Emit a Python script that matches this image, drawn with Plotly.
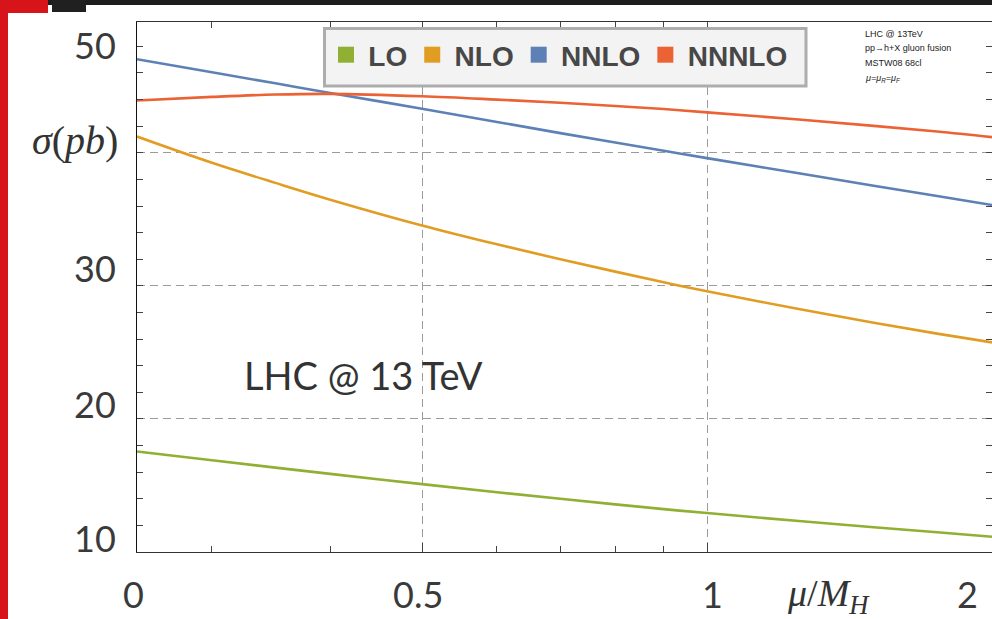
import numpy as np
import plotly.graph_objects as go

# Scale ratio mu / M_H (log axis) and cross sections in pb
mu_ratio = [0.25, 0.3, 0.35, 0.4, 0.5, 0.6, 0.7, 0.8, 0.9, 1.0, 1.25, 1.5, 1.75, 2.0]
sigma_lo = [17.55, 16.89, 16.34, 15.87, 15.10, 14.49, 14.0, 13.58, 13.22, 12.93, 12.33, 11.86, 11.48, 11.15]
sigma_nlo = [41.22, 39.25, 37.74, 36.48, 34.54, 33.12, 32.0, 31.07, 30.27, 29.59, 28.26, 27.23, 26.41, 25.75]
sigma_nnlo = [47.03, 46.05, 45.22, 44.5, 43.31, 42.32, 41.48, 40.77, 40.15, 39.6, 38.46, 37.53, 36.75, 36.08]
sigma_nnnlo = [43.93, 44.2, 44.38, 44.43, 44.25, 44.0, 43.76, 43.52, 43.29, 43.04, 42.5, 42.02, 41.6, 41.18]

series_names = ["LO", "NLO", "NNLO", "NNNLO"]
series_colors = ["#8FB032", "#E19C24", "#5E81B5", "#EB6235"]
series_values = [sigma_lo, sigma_nlo, sigma_nnlo, sigma_nnnlo]

x_tick_values = [0.25, 0.5, 1, 2]
x_tick_text = ["0", "0.5", "1", "2"]
x_minor_ticks = [0.3, 0.4, 0.6, 0.7, 0.8, 0.9]
y_tick_text = ["50", "30", "20", "10"]
y_tick_values = [50, 30, 20, 10]

W, H = 992, 619
L, R, T, B = 137, 0, 22, 67
PW, PH = W - L - R, H - T - B


def px_x(p):
    return (p - L) / PW


def px_y(p):
    return (H - B - p) / PH


fig = go.Figure()

for name, color, values in zip(series_names, series_colors, series_values):
    fig.add_trace(go.Scatter(
        x=mu_ratio, y=values, mode="lines", name=name,
        line=dict(color=color, width=2.6, shape="spline", smoothing=1.0),
        showlegend=False, hoverinfo="skip",
    ))
    # square swatch for the legend
    fig.add_trace(go.Scatter(
        x=[None], y=[None], mode="markers", name="\u200a" + name,
        marker=dict(symbol="square", size=17, color=color),
        showlegend=True,
    ))

shapes = []


def rect(x0, y0, x1, y1, fill, line_color=None, line_width=0, layer="below"):
    shapes.append(dict(
        type="rect", xref="paper", yref="paper",
        x0=px_x(x0), x1=px_x(x1), y0=px_y(y1), y1=px_y(y0),
        fillcolor=fill, line=dict(color=line_color or fill, width=line_width),
        layer=layer,
    ))


# slide frame: dark top strip and red side bar
rect(48, 0, 992, 5, "#1d1d1d")
rect(52, 0, 86, 12, "#202020")
rect(0, 0, 48, 13, "#d7141a")
rect(0, 0, 8, 619, "#d7141a")
# legend panel
rect(324.5, 28.5, 806, 86, "#f3f3f3", "#adadad", 3, layer="above")

annotations = []
num_font = dict(family="Lato", size=36, color="#3a3a3a")
# vertical centre of each y label, in pixels
y_label_px = {50: 45, 30: 268, 20: 404, 10: 538}
for txt, val in zip(y_tick_text, y_tick_values):
    annotations.append(dict(
        text=txt, xref="paper", yref="paper", x=px_x(118), y=px_y(y_label_px[val]),
        xanchor="right", yanchor="middle",
        showarrow=False, font=num_font,
    ))

x_label_shift = {0.25: -3.5, 0.5: -4, 1: 5, 2: -25}
for txt, val in zip(x_tick_text, x_tick_values):
    annotations.append(dict(
        text=txt, xref="x", yref="paper", x=np.log10(val), y=px_y(594),
        xanchor="center", yanchor="middle", xshift=x_label_shift[val],
        showarrow=False, font=num_font,
    ))

serif = "Liberation Serif"
annotations.append(dict(
    text="<i>σ</i>(<i>pb</i>)", xref="paper", yref="paper",
    x=px_x(75), y=px_y(141), xanchor="center", yanchor="middle",
    showarrow=False, font=dict(family=serif, size=40, color="#333333"),
))
annotations.append(dict(
    text="<i>μ</i>/<i>M</i><sub><i>H</i></sub>", xref="paper", yref="paper",
    x=px_x(828), y=px_y(596), xanchor="center", yanchor="middle",
    showarrow=False, font=dict(family=serif, size=38, color="#333333"),
))
annotations.append(dict(
    text="LHC @ 13 TeV", xref="paper", yref="paper",
    x=px_x(363), y=px_y(375), xanchor="center", yanchor="middle",
    showarrow=False, font=dict(family="Lato", size=38, color="#333333"),
))

small_lines = [
    ("LHC @ 13TeV", 34),
    ("pp→h+X gluon fusion", 48),
    ("MSTW08 68cl", 63),
    ("<i>μ=μ<sub>R</sub>=μ<sub>F</sub></i>", 79),
]
for txt, ypx in small_lines:
    annotations.append(dict(
        text=txt, xref="paper", yref="paper", x=px_x(863), y=px_y(ypx),
        xanchor="left", yanchor="middle", showarrow=False,
        font=dict(family="Liberation Sans", size=9, color="#222222"),
    ))

grid_style = dict(showgrid=True, gridcolor="#9b9b9b", gridwidth=1, griddash="8px,5px")

fig.update_layout(
    width=W, height=H,
    margin=dict(l=L, r=R, t=T, b=B, autoexpand=False),
    paper_bgcolor="white", plot_bgcolor="white",
    shapes=shapes, annotations=annotations,
    showlegend=True,
    legend=dict(
        orientation="h", x=px_x(326), y=px_y(30), xanchor="left", yanchor="top",
        bgcolor="rgba(0,0,0,0)", borderwidth=0,
        font=dict(family="Liberation Sans", size=28, color="#474747", weight="bold"),
        itemclick=False, itemdoubleclick=False,
    ),
    xaxis=dict(
        type="log", range=[np.log10(0.25), np.log10(2)],
        tickmode="array", tickvals=x_tick_values, showticklabels=False,
        ticks="inside", ticklen=9, tickwidth=1, tickcolor="#444444",
        showline=True, linecolor="#333333", linewidth=1.3, mirror="allticks",
        minor=dict(tickvals=x_minor_ticks, ticks="inside", ticklen=6,
                   tickwidth=1, tickcolor="#444444", showgrid=False),
        zeroline=False, **grid_style,
    ),
    yaxis=dict(
        range=[10, 49.83], tick0=10, dtick=10, showticklabels=False,
        ticks="inside", ticklen=6, tickwidth=1, tickcolor="#444444",
        showline=True, linecolor="#111111", linewidth=1.3, mirror="allticks",
        minor=dict(tick0=10, dtick=2, ticks="inside", ticklen=6,
                   tickwidth=1, tickcolor="#444444", showgrid=False),
        zeroline=False, **grid_style,
    ),
)

fig.write_html("out.html")
